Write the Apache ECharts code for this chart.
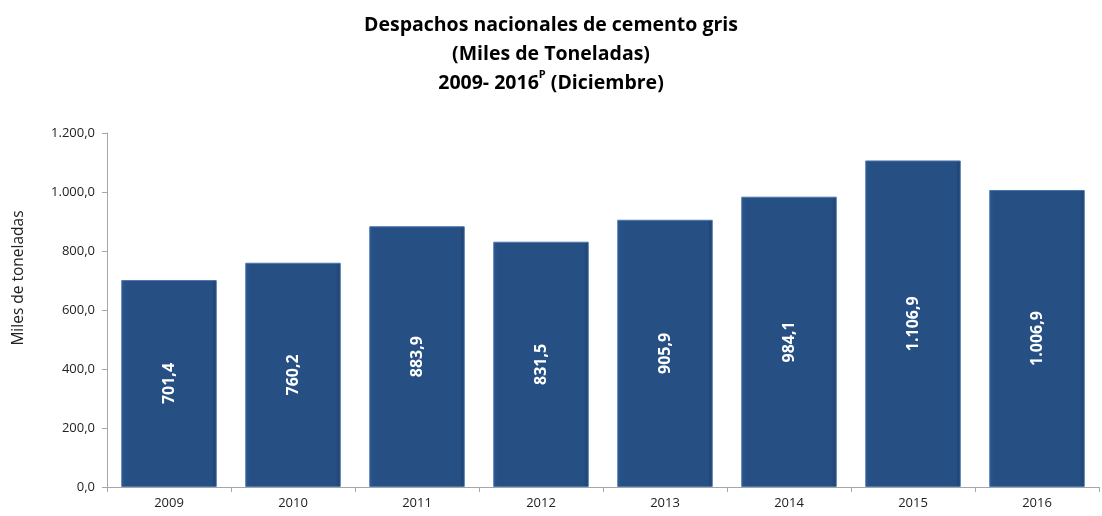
<!DOCTYPE html>
<html>
<head>
<meta charset="utf-8">
<script src="https://cdn.jsdelivr.net/npm/echarts@6/dist/echarts.min.js"></script>
<style>
html, body { margin: 0; padding: 0; background: #fff; }
#chart { width: 1102px; height: 516px; }
</style>
</head>
<body>
<div id="chart"></div>
<script>
// datos
var anios = ['2009', '2010', '2011', '2012', '2013', '2014', '2015', '2016'];
var despachos = [701.4, 760.2, 883.9, 831.5, 905.9, 984.1, 1106.9, 1006.9];

// formato 1.234,5
function fmt(v) {
    var s = v.toFixed(1).split('.');
    var ent = s[0].replace(/\B(?=(\d{3})+(?!\d))/g, '.');
    return ent + ',' + s[1];
}

var chart = echarts.init(document.getElementById('chart'));

chart.setOption({
    animation: false,
    title: {
        text: '{t|Despachos nacionales de cemento gris}\n{t|(Miles de Toneladas)}\n{t|2009- 2016}{s|P}{t| (Diciembre)}',
        left: 'center',
        top: 6,
        textStyle: {
            rich: {
                t: { fontFamily: 'Open Sans', fontWeight: 'bold', fontSize: 19.5, color: '#000', lineHeight: 29 },
                s: { fontFamily: 'Open Sans', fontWeight: 'bold', fontSize: 11, color: '#000', lineHeight: 29, verticalAlign: 'top', padding: [0, 0, 6, 0] }
            }
        }
    },
    grid: { left: 107, right: 3, top: 133, bottom: 29 },
    xAxis: {
        type: 'category',
        data: anios,
        axisLine: { lineStyle: { color: '#a6a6a6' } },
        axisTick: { show: true, length: 5, lineStyle: { color: '#a6a6a6' } },
        axisLabel: { color: '#222', fontFamily: 'Open Sans', fontSize: 13, margin: 10 }
    },
    yAxis: {
        type: 'value',
        min: 0,
        max: 1200,
        interval: 200,
        name: 'Miles de toneladas',
        nameLocation: 'middle',
        nameGap: 80,
        nameTextStyle: { color: '#222', fontFamily: 'Open Sans', fontSize: 15.5, padding: [0, 0, 0, 64] },
        axisLine: { show: true, lineStyle: { color: '#a6a6a6' } },
        axisTick: { show: true, length: 5, lineStyle: { color: '#a6a6a6' } },
        splitLine: { show: false },
        axisLabel: {
            color: '#222', fontFamily: 'Open Sans', fontSize: 13, margin: 12,
            formatter: function (v) { return fmt(v); }
        }
    },
    series: [{
        type: 'bar',
        data: despachos,
        barCategoryGap: '23%',
        itemStyle: {
            color: new echarts.graphic.LinearGradient(0, 0, 1, 0, [
                { offset: 0, color: '#2a5790' },
                { offset: 0.05, color: '#264f84' },
                { offset: 0.95, color: '#264f84' },
                { offset: 1, color: '#1c3d68' }
            ]),
            borderColor: '#4a76ad',
            borderWidth: 1
        },
        label: {
            show: true,
            position: 'inside',
            rotate: 90,
            color: '#fff',
            fontFamily: 'Open Sans',
            fontWeight: 'bold',
            fontSize: 16,
            formatter: function (p) { return fmt(p.value); }
        }
    }]
});
</script>
</body>
</html>
